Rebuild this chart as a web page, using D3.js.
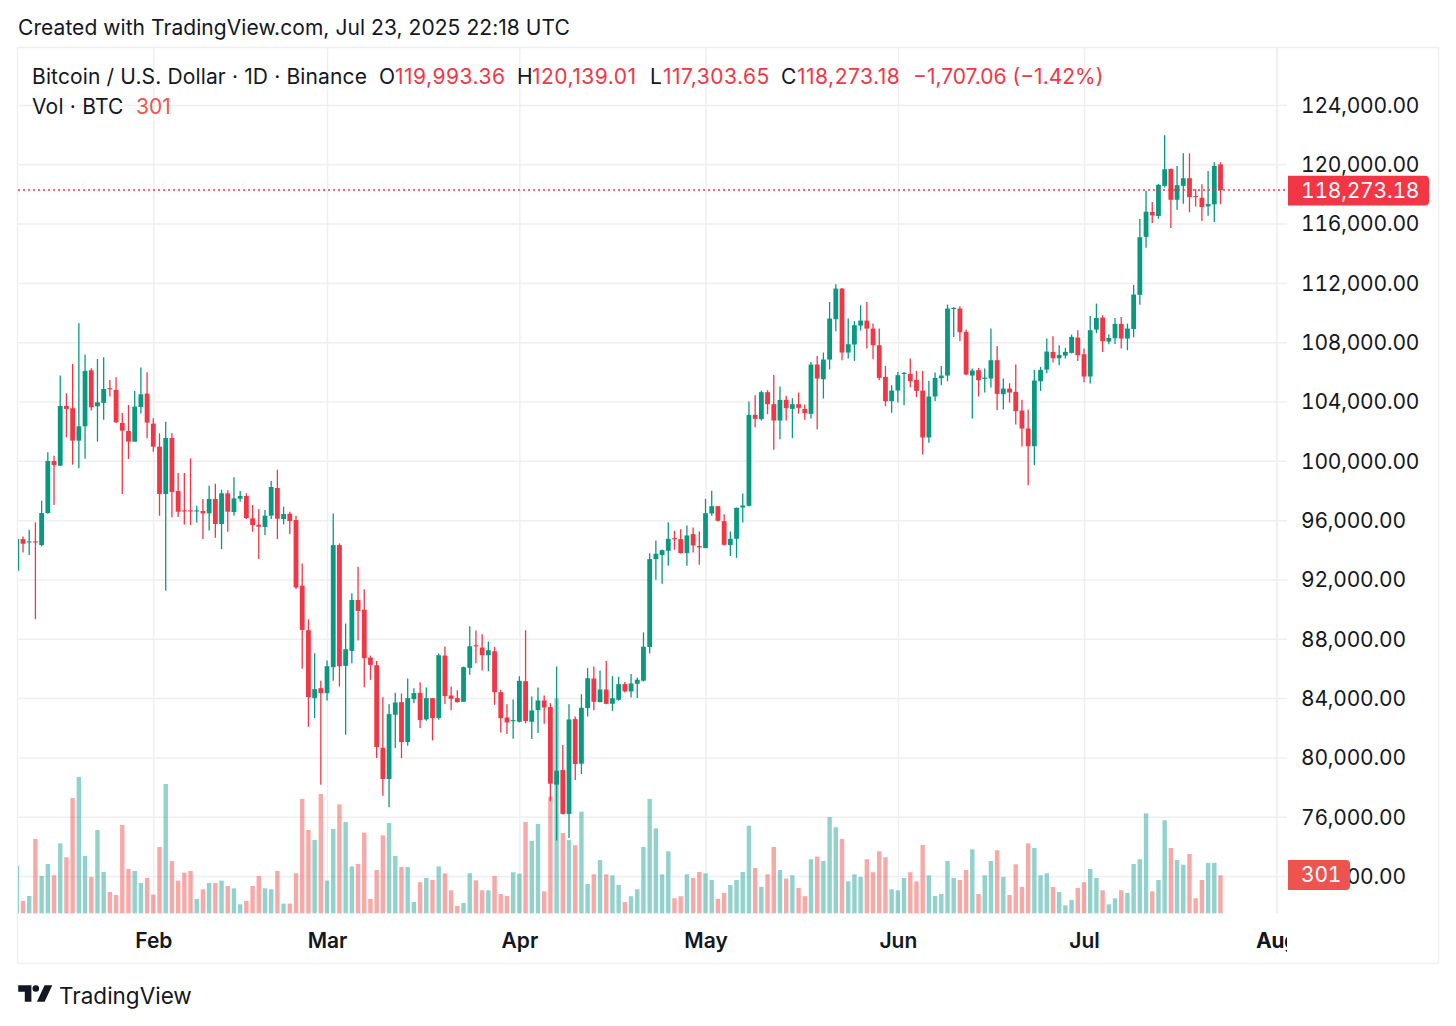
<!DOCTYPE html>
<html>
<head>
<meta charset="utf-8">
<script src="https://cdn.jsdelivr.net/npm/d3@7"></script>
<style>
  html, body { margin: 0; background: #fff; }
  svg { display: block; }
  text { font-family: Inter, "Noto Sans", sans-serif; fill: #131722; }
  .tnum { font-variant-numeric: tabular-nums; letter-spacing: -0.2px; }
</style>
</head>
<body>
<svg id="chart" width="1456" height="1026"></svg>
<script>
// daily BTC/USD candles, first one is Jan 10 2025
var firstDay = new Date(Date.UTC(2025, 0, 10));

var opens = [92588,94725,94500,94568,94320,96480,99990,99675,103703,103545,
  101363,102330,106110,103680,103905,104895,104783,102555,102015,101295,
  103635,104535,102510,100958,97763,101543,97965,96660,96660,96593,
  96615,96458,97425,95738,97808,96548,97448,97628,96120,95693,
  95535,96300,98168,96075,96435,96008,91580,88573,83995,84668,
  84332,86082,94317,86172,87181,90615,89964,86733,86217,80651,
  78542,82873,83726,81033,83928,84354,82559,83995,82649,86867,
  84175,83995,83748,86037,87563,87406,86890,87159,84399,82693,
  82447,82402,85139,82402,83187,83838,83389,78161,79148,76186,
  82581,79574,83322,85319,83726,84578,83614,83883,84944,84449,
  84966,85170,87440,93372,93641,93933,94787,94720,93776,95057,
  94248,94113,96450,96944,95933,94315,94742,96855,96967,103101,
  102809,104629,103820,102719,104112,103506,103820,103506,103169,106495,
  105506,106832,109551,111618,107304,107843,109124,109461,108921,107798,
  105663,104023,104742,105865,105865,105461,104742,101574,104338,105573,
  105753,110247,110270,108697,105753,106113,105528,105551,106787,104495,
  104877,104652,103394,102180,100989,105371,106158,107348,106922,107101,
  107281,108315,107191,105686,108854,109663,108045,108270,109236,108247,
  108892,111195,115106,116782,116514,118548,119688,117609,118548,119062,
  117855,117743,117162,117296,119993.36];

var highs = [95840,94905,95355,95850,97313,100575,100350,105750,104558,106538,
  109283,107168,106245,106875,106988,105458,105638,103230,103770,104715,
  106290,105975,102870,101858,102645,101858,99180,99180,100170,96975,
  97425,98325,98460,98055,98010,98888,97965,97808,97020,96750,
  96683,98640,99405,96908,96570,96300,93083,89313,87024,85162,
  86531,96449,94430,89022,91064,92859,91333,86867,86508,84062,
  83591,84354,84309,85319,84668,85072,84713,83995,87002,87473,
  84780,84534,86127,88842,88550,88303,87810,87451,84556,83591,
  83905,85476,88573,84107,84713,84175,83658,86127,80831,83591,
  82761,84264,86015,86127,85858,86508,85476,85431,85079,85618,
  85393,88428,93776,94630,94023,95866,95282,95394,95641,95506,
  95237,97439,97978,96944,96405,95237,96855,97798,104000,104427,
  104742,104764,105798,105011,104382,104225,104607,103798,106674,107079,
  107304,110719,111910,111663,109595,109416,110494,110719,109258,108921,
  106405,105101,106000,106000,106899,106068,106068,105394,105955,106405,
  110539,110382,110427,108854,106225,106270,106225,108921,107753,105551,
  105236,106495,104113,103461,106135,106337,108247,108405,107798,107618,
  108517,108809,107573,109775,110607,109820,108539,109640,109708,109258,
  111865,116313,118212,117453,118682,121967,119710,119889,120738,120738,
  118324,118659,119553,120135,120139.01];

var lows = [92210,93825,93645,89325,94230,96440,97020,99675,101588,99743,
  99495,100148,103388,101295,102780,104333,102555,97763,100125,101295,
  103185,101520,100620,96300,91238,96188,96210,95715,95670,95850,
  94725,95310,94815,94050,95220,96300,97245,96075,95220,93375,
  94995,96075,94725,95715,95063,91350,85970,82065,82649,78161,
  83838,85162,84780,81527,86351,87877,84736,85229,79956,77420,
  76635,80629,79956,80786,83658,81975,82469,81145,82536,83591,
  83187,83703,83748,85566,86351,85858,85813,83546,81684,81571,
  81257,82357,82290,81235,81639,82267,77039,74391,76141,74570,
  78475,78879,82761,83187,83726,83591,83142,83815,84382,84045,
  84000,85125,87013,91979,91709,92922,94001,93754,92922,93821,
  92990,94113,96293,95911,94293,93574,93462,95843,96922,102247,
  102719,103146,100742,101461,102719,101528,103191,102764,102854,102135,
  104203,106158,108742,106787,106899,106742,108787,107573,106854,105439,
  103686,103236,103933,103753,104967,104293,100428,101214,104023,105101,
  105371,108360,108068,105776,102854,104338,104607,104944,103416,103461,
  103933,102450,100967,98360,99709,104720,105910,106629,106450,106899,
  107236,106742,105304,105214,108607,107348,107865,107888,107573,107461,
  108334,110524,114368,116044,116335,118436,115709,116938,117341,116760,
  117162,116179,116536,116112,117303.65];

var closes = [94725,94410,94568,94500,96480,99990,99720,103703,103500,101363,
  102330,106065,103613,103950,104850,104828,102600,102038,101295,103658,
  104490,102578,100958,97763,101543,97898,96570,96593,96593,96660,
  96458,97425,95738,97808,96570,97470,97628,96143,95670,95558,
  96300,98235,96098,96413,95940,91463,88595,84062,84601,84332,
  86149,94317,86149,87294,90615,89874,86688,86239,80696,78542,
  82918,83703,81033,83995,84332,82514,83995,82649,86890,84130,
  83950,83726,86082,87496,87496,86890,87226,84399,82649,82357,
  82514,85162,82447,83165,83838,83367,78228,79103,76186,82559,
  79552,83344,85341,83748,84578,83614,83995,84937,84449,84989,
  85236,87462,93372,93731,93978,94742,94742,93776,94967,94293,
  94158,96473,96944,95956,94338,94742,96832,96989,103101,102832,
  104629,103820,102719,104112,103551,103820,103573,103214,106495,105551,
  106832,109595,111618,107304,107865,109146,109461,108921,107798,105596,
  104023,104742,105776,105933,105371,104720,101574,104338,105596,105753,
  110270,110315,108674,105821,106090,105439,105618,106787,104517,104877,
  104607,103349,102180,100989,105416,106135,107371,106922,107146,107348,
  108360,107124,105686,108809,109640,108068,108292,109236,108247,108921,
  111217,115083,116804,116559,118615,119665,117609,118592,119062,117788,
  117788,117117,117318,119889,118273.18];

var volumes = [378,98,137,589,296,391,301,554,444,913,
  1080,454,288,660,327,169,145,700,351,335,
  240,280,148,525,1024,414,259,322,335,114,
  190,240,240,259,216,198,71,98,216,296,
  198,190,335,77,77,317,906,660,581,945,
  259,668,863,723,372,391,639,114,343,618,
  715,454,367,367,90,246,280,264,372,317,
  182,58,82,317,261,182,182,296,153,137,
  325,314,723,573,708,174,924,1703,636,580,
  539,805,232,309,422,309,301,224,90,135,
  190,525,906,673,309,491,119,135,309,280,
  327,317,264,114,161,224,264,327,694,359,
  209,309,525,343,275,301,201,135,428,449,
  414,763,681,589,253,309,288,428,325,491,
  444,190,182,280,325,253,541,301,137,153,
  414,280,264,343,507,153,301,414,499,288,
  145,388,209,554,517,301,317,209,169,63,
  106,201,246,351,280,182,71,119,182,161,
  391,428,792,174,264,737,517,422,385,470,
  119,264,399,399,301];

var priceTicks = [124000,120000,116000,112000,108000,104000,100000,96000,92000,88000,84000,80000,76000,72000];
var monthTicks = [[2025,1],[2025,2],[2025,3],[2025,4],[2025,5],[2025,6],[2025,7]];
var lastPrice = closes[closes.length - 1];
var lastVolume = volumes[volumes.length - 1];

var UP = "#089981", DOWN = "#f23645";
var GRID = "#efeff1";

var svg = d3.select("#chart");

var paneLeft = 18, paneRight = 1287, paneTop = 48, paneBottom = 913;

var x = d3.scaleUtc()
  .domain([new Date(Date.UTC(2025, 1, 1)), new Date(Date.UTC(2025, 6, 1))])
  .range([153.3, 1084]);
var y = d3.scaleLinear().domain([72000, 124000]).range([876, 105]);
var yVol = d3.scaleLinear().domain([0, 301]).range([913.3, 875.3]);

var days = opens.map((d, i) => d3.utcDay.offset(firstDay, i));
var monthDates = monthTicks.map(m => new Date(Date.UTC(m[0], m[1], 1)));
monthDates.push(new Date(Date.UTC(2025, 7, 1)));

svg.append("defs").append("clipPath").attr("id", "pane")
  .append("rect")
  .attr("x", paneLeft).attr("y", paneTop)
  .attr("width", paneRight - paneLeft).attr("height", 916 - paneTop);
svg.select("defs").append("clipPath").attr("id", "timeaxis")
  .append("rect")
  .attr("x", paneLeft).attr("y", 916)
  .attr("width", paneRight - paneLeft).attr("height", 46);

// outer frame
svg.append("rect")
  .attr("x", 17.5).attr("y", 47.5)
  .attr("width", 1421).attr("height", 916)
  .attr("fill", "none").attr("stroke", "#f0f0f2").attr("stroke-width", 1.5);

// grid lines, drawn with axes
var gridY = svg.append("g")
  .attr("transform", `translate(${paneLeft},0)`)
  .call(d3.axisLeft(y).tickValues(priceTicks).tickSize(-(paneRight - paneLeft)).tickFormat(""));
var gridX = svg.append("g")
  .attr("transform", `translate(0,${paneBottom})`)
  .call(d3.axisBottom(x).tickValues(monthDates).tickSize(-(paneBottom - paneTop)).tickFormat(""));
[gridX, gridY].forEach(g => {
  g.select(".domain").remove();
  g.selectAll("line").attr("stroke", GRID).attr("stroke-width", 1.5);
});

var pane = svg.append("g").attr("clip-path", "url(#pane)");
var color = i => closes[i] >= opens[i] ? UP : DOWN;

// volume bars
pane.append("g").selectAll("rect").data(volumes).join("rect")
  .attr("x", (d, i) => x(days[i]) - 2.2)
  .attr("width", 4.4)
  .attr("y", d => yVol(d))
  .attr("height", d => yVol(0) - yVol(d))
  .attr("fill", (d, i) => closes[i] >= opens[i] ? "#26a69a" : "#ef5350")
  .attr("opacity", 0.5);

// wicks then bodies
pane.append("g").selectAll("line").data(highs).join("line")
  .attr("x1", (d, i) => x(days[i]))
  .attr("x2", (d, i) => x(days[i]))
  .attr("y1", d => y(d))
  .attr("y2", (d, i) => y(lows[i]))
  .attr("stroke", (d, i) => color(i))
  .attr("stroke-width", 1.3);
pane.append("g").selectAll("rect").data(opens).join("rect")
  .attr("x", (d, i) => x(days[i]) - 2.4)
  .attr("width", 4.8)
  .attr("y", (d, i) => y(Math.max(d, closes[i])))
  .attr("height", (d, i) => Math.max(1.1, Math.abs(y(d) - y(closes[i]))))
  .attr("fill", (d, i) => color(i));

// last price line
svg.append("line")
  .attr("x1", paneLeft).attr("x2", paneRight)
  .attr("y1", y(lastPrice)).attr("y2", y(lastPrice))
  .attr("stroke", DOWN).attr("stroke-width", 1.5)
  .attr("stroke-dasharray", "2 3");

// price axis
var priceFormat = d3.format(",.2f");
var priceAxis = svg.append("g")
  .attr("transform", "translate(1301,0)")
  .call(d3.axisRight(y).tickValues(priceTicks).tickSize(0).tickPadding(0).tickFormat(priceFormat));
priceAxis.select(".domain").remove();
priceAxis.selectAll("text")
  .attr("class", "tnum")
  .attr("font-size", 21).attr("font-family", null).attr("dy", "0.35em")
  .style("fill", "#131722");

// time axis
var timeAxis = svg.append("g")
  .attr("clip-path", "url(#timeaxis)")
  .append("g")
  .attr("transform", "translate(0,913)")
  .call(d3.axisBottom(x).tickValues(monthDates)
    .tickSize(0).tickPadding(0).tickFormat(d3.utcFormat("%b")));
timeAxis.select(".domain").remove();
timeAxis.selectAll("text")
  .attr("y", 35).attr("dy", null)
  .attr("font-size", 21).attr("font-weight", 600).attr("font-family", null)
  .style("fill", "#131722");

// price tags
function tag(x0, x1, y0, y1, fill, label) {
  var r = 4;
  svg.append("path")
    .attr("d", `M${x0},${y0}H${x1 - r}Q${x1},${y0} ${x1},${y0 + r}V${y1 - r}Q${x1},${y1} ${x1 - r},${y1}H${x0}Z`)
    .attr("fill", fill);
  svg.append("text")
    .attr("class", "tnum")
    .attr("x", 1301)
    .attr("y", (y0 + y1) / 2).attr("dy", "0.35em")
    .attr("font-size", 21)
    .style("fill", "#fff").text(label);
}
tag(1288, 1429, 175.7, 205.5, DOWN, priceFormat(lastPrice));
tag(1288, 1350, 860, 890, "#ef5350", String(lastVolume));

// header texts
function label(px, py, str, fill, size, spacing) {
  svg.append("text").attr("x", px).attr("y", py).attr("dy", "0.35em")
    .attr("font-size", size || 21).style("fill", fill || "#131722")
    .style("letter-spacing", (spacing || 0) + "px").text(str);
}
label(18, 28, "Created with TradingView.com, Jul 23, 2025 22:18 UTC", "#131722", 21, 0.06);
label(32, 76.5, "Bitcoin / U.S. Dollar · 1D · Binance", "#131722", 21, 0.14);
label(379, 76.5, "O");
label(395, 76.5, "119,993.36", DOWN, 21, 0.5);
label(517, 76.5, "H");
label(532, 76.5, "120,139.01", DOWN, 21, 0.5);
label(650, 76.5, "L");
label(663, 76.5, "117,303.65", DOWN, 21, 0.5);
label(781, 76.5, "C");
label(797, 76.5, "118,273.18", DOWN, 21, 0.5);
label(913, 76.5, "−1,707.06 (−1.42%)", DOWN);
label(32, 106.5, "Vol · BTC", "#131722", 21, 0.2);
label(136, 106.5, String(lastVolume), "#ef5350");

// logo and name at the bottom
svg.append("path")
  .attr("transform", "translate(16,978.6) scale(1.1)")
  .attr("d", "M14 6H2v6h6v9h6V6Zm5 15h7l7-15h-7l-7 15Zm-1-15a3 3 0 1 0 0 6 3 3 0 0 0 0-6Z")
  .attr("fill", "#131722");
label(59, 996, "TradingView", "#131722", 22.5);
</script>
</body>
</html>
